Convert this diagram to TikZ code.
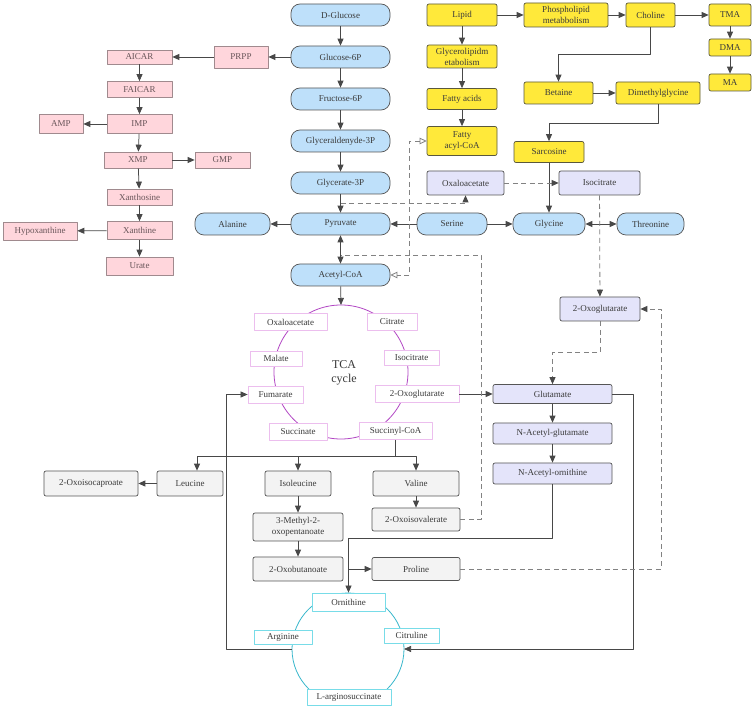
\documentclass[tikz,border=0pt]{standalone}
\usepackage{fontspec}
\setmainfont{Liberation Serif}
\usetikzlibrary{arrows.meta,positioning,calc}
\definecolor{mtedge}{RGB}{85,85,85}
\definecolor{mtink}{RGB}{58,58,58}
\definecolor{mtblue}{RGB}{190,224,250}
\definecolor{mtpink}{RGB}{255,214,220}
\definecolor{mtpinkedge}{RGB}{160,138,142}
\definecolor{mtpinkink}{RGB}{105,86,90}
\definecolor{mtyel}{RGB}{255,233,58}
\definecolor{mtyeledge}{RGB}{90,88,60}
\definecolor{mtlav}{RGB}{228,228,250}
\definecolor{mtgray}{RGB}{243,243,243}
\definecolor{mttca}{RGB}{178,70,196}
\definecolor{mttcab}{RGB}{236,190,238}
\definecolor{mturea}{RGB}{58,184,204}
\definecolor{mtureab}{RGB}{120,220,232}
\definecolor{mtdash}{RGB}{130,130,130}
\tikzset{
  mbox/.style={
    draw=mtedge, line width=0.7pt, align=center, inner sep=1pt,
    text=mtink, font=\fontsize{9}{11}\selectfont
  },
  blu/.style={mbox, fill=mtblue, rounded corners=9pt, minimum height=22pt},
  col/.style={blu, minimum width=99pt},
  pnk/.style={mbox, fill=mtpink, draw=mtpinkedge, text=mtpinkink},
  ylw/.style={mbox, fill=mtyel, draw=mtyeledge, rounded corners=2pt, minimum width=70pt},
  lav/.style={mbox, fill=mtlav, rounded corners=2pt},
  gry/.style={mbox, fill=mtgray, rounded corners=2pt},
  tcab/.style={mbox, fill=white, draw=mttcab, line width=0.8pt, minimum height=17pt},
  ureab/.style={mbox, fill=white, draw=mtureab, line width=0.8pt},
  >={Triangle[length=7pt,width=6pt]},
  arr/.style={->, draw=mtedge!85!black, line width=0.75pt},
  arrs/.style={<->, draw=mtedge!85!black, line width=0.75pt},
  line/.style={draw=mtedge!85!black, line width=0.75pt},
  dline/.style={draw=mtdash, line width=0.8pt, dash pattern=on 5pt off 3.5pt},
  darr/.style={dline, -{Triangle[length=7pt,width=6pt,color=mtedge!85!black]}},
  oarr/.style={dline, {Triangle[open,length=7pt,width=6.5pt]}-{Triangle[open,length=7pt,width=6.5pt]}},
  every picture/.append style={line join=round}
}
\begin{document}
\begin{tikzpicture}[x=1pt, y=-1pt]
  \useasboundingbox[fill=white] (0,0) rectangle (753,708);
  % cycles behind the boxes
  \draw[mttca, line width=0.8pt] (341,372) circle[radius=67pt];
  \draw[mturea, line width=0.8pt] (348,649) circle[radius=56pt];
  \coordinate (ucl) at (292,649);
  \coordinate (ucr) at (404,649);
  \coordinate (tcatop) at (341,305);

  % glycolysis
  \node[col] (dglc) at (340.5,15) {D-Glucose};
  \node[col] (g6p) at (340.5,57) {Glucose-6P};
  \node[col] (f6p) at (340.5,99) {Fructose-6P};
  \node[col] (gap) at (340.5,141) {Glyceraldenyde-3P};
  \node[col] (g3p) at (340.5,183) {Glycerate-3P};
  \node[col] (pyr) at (340.5,224) {Pyruvate};
  \node[col] (accoa) at (340.5,275) {Acetyl-CoA};
  \node[blu, minimum width=75pt] (ala) at (232.5,224) {Alanine};
  \node[blu, minimum width=70pt] (ser) at (452,224) {Serine};
  \node[blu, minimum width=72pt] (gly) at (549,224) {Glycine};
  \node[blu, minimum width=67pt] (thr) at (650.5,224) {Threonine};

  % purines
  \node[pnk, minimum width=54pt, minimum height=22pt] (prpp) at (241,57) {PRPP};
  \node[pnk, minimum width=65pt, minimum height=14pt] (aicar) at (139.5,57) {AICAR};
  \node[pnk, minimum width=65pt, minimum height=16pt] (faicar) at (139.5,89.5) {FAICAR};
  \node[pnk, minimum width=65pt, minimum height=19pt] (imp) at (139.5,124) {IMP};
  \node[pnk, minimum width=44pt, minimum height=19pt] (amp) at (61,124) {AMP};
  \node[pnk, minimum width=68pt, minimum height=16pt] (xmp) at (138,160) {XMP};
  \node[pnk, minimum width=55pt, minimum height=16pt] (gmp) at (222.5,160) {GMP};
  \node[pnk, minimum width=65pt, minimum height=16pt] (xao) at (139.5,197) {Xanthosine};
  \node[pnk, minimum width=65pt, minimum height=18pt] (xan) at (139.5,230.5) {Xanthine};
  \node[pnk, minimum width=74pt, minimum height=18pt] (hyp) at (40,231) {Hypoxanthine};
  \node[pnk, minimum width=67pt, minimum height=18pt] (urate) at (139.5,266) {Urate};

  % lipids
  \node[ylw, minimum height=22pt] (lipid) at (462,15) {Lipid};
  \node[ylw, minimum width=84pt, minimum height=24pt] (pl) at (566,15) {Phospholipid\\metabbolism};
  \node[ylw, minimum width=49pt, minimum height=24pt] (chol) at (650.5,15) {Choline};
  \node[ylw, minimum width=42pt, minimum height=22pt] (tma) at (730,15) {TMA};
  \node[ylw, minimum width=42pt, minimum height=17pt] (dma) at (730,47.5) {DMA};
  \node[ylw, minimum width=42pt, minimum height=17pt] (ma) at (730,82.5) {MA};
  \node[ylw, minimum height=23pt] (gl) at (462,56.5) {Glycerolipidm\\etabolism};
  \node[ylw, minimum height=21pt] (fa) at (462,99) {Fatty acids};
  \node[ylw, minimum height=29pt] (facoa) at (462,141) {Fatty\\acyl-CoA};
  \node[ylw, minimum width=69pt, minimum height=22pt] (bet) at (558.5,93) {Betaine};
  \node[ylw, minimum width=84pt, minimum height=22pt] (dmg) at (658,93) {Dimethylglycine};
  \node[ylw, minimum height=21pt] (sar) at (549,152) {Sarcosine};

  % amino acid side
  \node[lav, minimum width=77pt, minimum height=24pt] (oaa) at (465.5,183) {Oxaloacetate};
  \node[lav, minimum width=81pt, minimum height=24pt] (icit) at (599.5,183) {Isocitrate};
  \node[lav, minimum width=80pt, minimum height=24pt] (akg) at (600,309) {2-Oxoglutarate};
  \node[lav, minimum width=119pt, minimum height=19pt] (glu) at (552.5,394) {Glutamate};
  \node[lav, minimum width=119pt, minimum height=21pt] (nag) at (552.5,433.5) {N-Acetyl-glutamate};
  \node[lav, minimum width=119pt, minimum height=21pt] (nao) at (552.5,473.5) {N-Acetyl-ornithine};

  % TCA cycle
  \node[tcab, minimum width=73pt] (toaa) at (290.5,322) {Oxaloacetate};
  \node[tcab, minimum width=50pt] (tcit) at (392,322) {Citrate};
  \node[tcab, minimum width=52pt, minimum height=15pt] (tmal) at (276,358.5) {Malate};
  \node[tcab, minimum width=55pt, minimum height=15pt] (ticit) at (411.5,358) {Isocitrate};
  \node[tcab, minimum width=55pt] (tfum) at (275.5,394.5) {Fumarate};
  \node[tcab, minimum width=84pt] (takg) at (417,394) {2-Oxoglutarate};
  \node[tcab, minimum width=58pt] (tsuc) at (298,431.5) {Succinate};
  \node[tcab, minimum width=73pt] (tscoa) at (395.5,431) {Succinyl-CoA};
  \node[align=center, text=mtink, font=\fontsize{12}{14}\selectfont] (tcalbl) at (344,373) {TCA\\cycle};

  % branched chain
  \node[gry, minimum width=94pt, minimum height=25pt] (kic) at (91,483.5) {2-Oxoisocaproate};
  \node[gry, minimum width=66pt, minimum height=25pt] (leu) at (190,483.5) {Leucine};
  \node[gry, minimum width=66pt, minimum height=25pt] (ile) at (298,483.5) {Isoleucine};
  \node[gry, minimum width=86pt, minimum height=25pt] (val) at (416,483.5) {Valine};
  \node[gry, minimum width=90pt, minimum height=28pt] (kmv) at (298,527) {3-Methyl-2-\\oxopentanoate};
  \node[gry, minimum width=90pt, minimum height=24pt] (kb) at (298,569) {2-Oxobutanoate};
  \node[gry, minimum width=88pt, minimum height=23pt] (kiv) at (416,519.5) {2-Oxoisovalerate};
  \node[gry, minimum width=88pt, minimum height=23pt] (pro) at (416,569) {Proline};

  % urea cycle
  \node[ureab, minimum width=73pt, minimum height=18pt] (orn) at (348.5,602) {Ornithine};
  \node[ureab, minimum width=58pt, minimum height=14pt] (arg) at (283,637) {Arginine};
  \node[ureab, minimum width=55pt, minimum height=15pt] (cit) at (411.5,635.5) {Citruline};
  \node[ureab, minimum width=84pt, minimum height=16pt] (asa) at (349,697) {L-arginosuccinate};

  % solid links
  \foreach \p/\q in {dglc/g6p,g6p/f6p,f6p/gap,gap/g3p,g3p/pyr,pyr/ala,ser/pyr,ser/gly,
    g6p/prpp,prpp/aicar,aicar/faicar,faicar/imp,imp/amp,imp/xmp,xmp/gmp,xmp/xao,xao/xan,xan/hyp,xan/urate,
    lipid/pl,pl/chol,chol/tma,tma/dma,dma/ma,lipid/gl,gl/fa,fa/facoa,bet/dmg,sar/gly,
    takg/glu,glu/nag,nag/nao,leu/kic,ile/kmv,kmv/kb,val/kiv}
    \draw[arr] (\p) -- (\q);
  \draw[arrs] (pyr) -- (accoa);
  \draw[arrs] (gly) -- (thr);
  \draw[arr] (accoa) -- (tcatop);
  \draw[arr] (chol.south) -- ++(0,27) -| (bet.north);
  \draw[arr] (dmg.south) -- ++(0,19) -| (sar.north);
  \draw[line] (tscoa.south) -- ++(0,16) coordinate (br);
  \draw[arr] (br) -| ([xshift=7pt]leu.north);
  \draw[arr] (br) -| (ile.north);
  \draw[arr] (br) -| (val.north);
  \draw[arr] (nao.south) -- ++(0,54) -| (orn.north);
  \draw[arr] (orn.north |- pro.west) -- (pro.west);
  \draw[arr] (glu.east) -- ++(21,0) |- (ucr);
  \draw[arr] (ucl) -| ([xshift=-21pt]tfum.west) -- (tfum.west);

  % dashed links
  \draw[darr] ($(g3p.south)!0.5!(pyr.north)$) -| (oaa.south);
  \draw[dline] (kiv.east) -- ++(21,0) |- ($(pyr.south)!0.7!(accoa.north)$);
  \draw[oarr] (facoa.west) -- ++(-17,0) |- (accoa.east);
  \draw[darr] (oaa) -- (icit);
  \draw[darr] (icit) -- (akg);
  \draw[darr] (akg.south) -- ++(0,31) -| (glu.north);
  \draw[darr] (pro.east) -| ([xshift=21pt]akg.east) -- (akg.east);
\end{tikzpicture}
\end{document}
